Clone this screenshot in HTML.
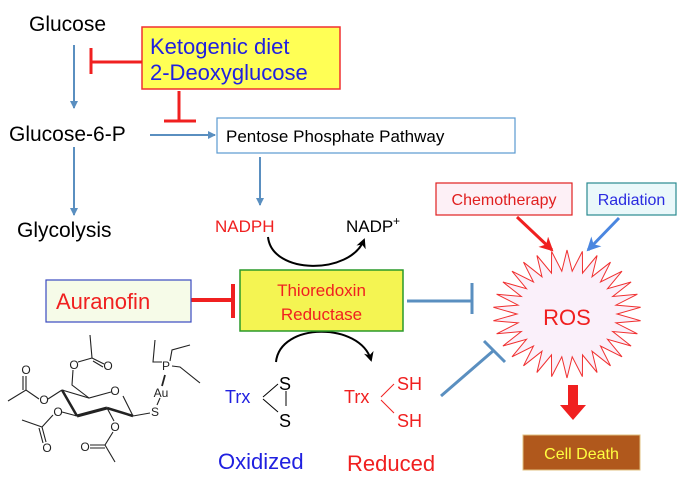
<!DOCTYPE html>
<html><head><meta charset="utf-8"><style>
html,body{margin:0;padding:0;background:#fff;}
svg{display:block;font-family:"Liberation Sans",sans-serif;}
</style></head><body>
<svg id="s" width="682" height="482" viewBox="0 0 682 482" xmlns="http://www.w3.org/2000/svg">
<defs>
<marker id="ab" markerWidth="8" markerHeight="8" refX="7" refY="4" orient="auto" markerUnits="userSpaceOnUse"><path d="M0,0 L8,4 L0,8 Z" fill="#5a8fc0"/></marker>
<marker id="ak" markerWidth="10" markerHeight="10" refX="8" refY="5" orient="auto" markerUnits="userSpaceOnUse"><path d="M0,0 L10,5 L0,10 L3,5 Z" fill="#000"/></marker>
<marker id="ar" markerWidth="14" markerHeight="14" refX="12" refY="7" orient="auto" markerUnits="userSpaceOnUse"><path d="M0,0 L14,7 L0,14 L4,7 Z" fill="#f02020"/></marker>
<marker id="abl" markerWidth="14" markerHeight="14" refX="12" refY="7" orient="auto" markerUnits="userSpaceOnUse"><path d="M0,0 L14,7 L0,14 L4,7 Z" fill="#4a86e0"/></marker>
</defs>
<text x="29" y="31" font-size="21">Glucose</text>
<text x="9" y="141" font-size="21">Glucose-6-P</text>
<text x="17" y="237" font-size="21">Glycolysis</text>
<g stroke="#5a8fc0" stroke-width="2" fill="none">
<line x1="74" y1="45" x2="74" y2="108" marker-end="url(#ab)"/>
<line x1="74" y1="147" x2="74" y2="215" marker-end="url(#ab)"/>
<line x1="150" y1="135" x2="215" y2="135" marker-end="url(#ab)"/>
<line x1="260" y1="157" x2="260" y2="205" marker-end="url(#ab)"/>
</g>
<rect x="142" y="27" width="198" height="62" fill="#ffff55" stroke="#f03030" stroke-width="1.5"/>
<text x="150" y="54" font-size="22" fill="#2020e0">Ketogenic diet</text>
<text x="150" y="80" font-size="22" fill="#2020e0">2-Deoxyglucose</text>
<g stroke="#f02020" stroke-width="3" fill="none">
<line x1="92" y1="62" x2="142" y2="62"/><line x1="91" y1="48" x2="91" y2="74"/>
<line x1="179" y1="91" x2="179" y2="121"/><line x1="164" y1="121" x2="196" y2="121"/>
<line x1="191" y1="300" x2="233" y2="300" stroke-width="4"/><line x1="233" y1="284" x2="233" y2="318" stroke-width="4"/>
</g>
<rect x="217" y="118" width="298" height="35" fill="#fff" stroke="#5a9ad0" stroke-width="1.2"/>
<text x="226" y="142" font-size="17">Pentose Phosphate Pathway</text>
<text x="215" y="232" font-size="17" fill="#f02020">NADPH</text>
<text x="346" y="232" font-size="17">NADP</text><text x="393" y="225" font-size="12">+</text>
<path d="M268,237 C272,275 350,275 364,240" stroke="#000" stroke-width="2" fill="none" marker-end="url(#ak)"/>
<path d="M276,362 C280,322 360,322 371,360" stroke="#000" stroke-width="2" fill="none" marker-end="url(#ak)"/>
<rect x="240" y="270" width="163" height="61" fill="#f4f452" stroke="#2a9a2a" stroke-width="1.5"/>
<text x="321.5" y="296" font-size="17" fill="#f02020" text-anchor="middle">Thioredoxin</text>
<text x="321.5" y="320" font-size="17" fill="#f02020" text-anchor="middle">Reductase</text>
<rect x="46" y="280" width="145" height="42" fill="#f6fbe8" stroke="#3a4ac0" stroke-width="1.2"/>
<text x="56" y="309" font-size="22" fill="#f02020">Auranofin</text>
<g stroke="#5a8fc0" stroke-width="3" fill="none">
<line x1="407" y1="301" x2="472" y2="301"/><line x1="472" y1="283" x2="472" y2="314"/>
<line x1="441" y1="396" x2="493" y2="351"/><line x1="484" y1="341" x2="505" y2="362"/>
</g>
<text x="225" y="403" font-size="18" fill="#2020e0">Trx</text>
<text x="279" y="390" font-size="18">S</text><text x="279" y="427" font-size="18">S</text>
<g stroke="#000" stroke-width="1"><line x1="263" y1="397" x2="278" y2="384"/><line x1="263" y1="399" x2="278" y2="412"/><line x1="286" y1="391" x2="286" y2="406"/></g>
<text x="344" y="403" font-size="18" fill="#f02020">Trx</text>
<text x="397" y="390" font-size="18" fill="#f02020">SH</text><text x="397" y="427" font-size="18" fill="#f02020">SH</text>
<g stroke="#f02020" stroke-width="1"><line x1="381" y1="397" x2="394" y2="384"/><line x1="381" y1="400" x2="394" y2="413"/></g>
<text x="218" y="469" font-size="22" fill="#2020e0">Oxidized</text>
<text x="347" y="471" font-size="22" fill="#f02020">Reduced</text>
<rect x="436" y="183" width="136" height="32" fill="#fdf0f6" stroke="#e02020" stroke-width="1.2"/>
<text x="504" y="205" font-size="16" fill="#e02020" text-anchor="middle">Chemotherapy</text>
<rect x="587" y="183" width="89" height="32" fill="#eaf8fa" stroke="#2a8a90" stroke-width="1.2"/>
<text x="631.5" y="205" font-size="16" fill="#2a2ae0" text-anchor="middle">Radiation</text>
<line x1="517" y1="217" x2="552" y2="250" stroke="#f02020" stroke-width="3" marker-end="url(#ar)"/>
<line x1="619" y1="218" x2="588" y2="250" stroke="#4a86e0" stroke-width="3" marker-end="url(#abl)"/>
<polygon id="star" fill="#faf0fa" stroke="#f03030" stroke-width="1"/>
<text x="567" y="325" font-size="22" fill="#f02020" text-anchor="middle">ROS</text>
<path d="M568,385 H578 V405 H586 L573,420 L560,405 H568 Z" fill="#f02020"/>
<rect x="523" y="435" width="117" height="35" fill="#b0581c" stroke="#e0c080" stroke-width="1"/>
<text x="581.5" y="459" font-size="16" fill="#ffff40" text-anchor="middle">Cell Death</text>
<g stroke="#222" stroke-width="1.1" fill="none">
<path d="M62,390 L89,398 L111,392"/><path d="M123,396 L133,416"/>
<path d="M133,416 L107,408" stroke-width="2.5"/><path d="M107,408 L77,416" stroke-width="3"/><path d="M77,416 L62,390" stroke-width="2.5"/>
<path d="M89,398 L72,385 L73,370"/><path d="M78,362 L92,358 L90,335"/><path d="M92,358 L104,364 M93,361 L103,367"/>
<path d="M62,390 L48,399"/><path d="M39,399 L26,390 L8,401"/><path d="M26,390 L26,376 M23,390 L23,376"/>
<path d="M77,416 L62,412"/><path d="M53,415 L42,427 L22,420"/><path d="M42,427 L46,442 M39,428 L43,443"/>
<path d="M107,408 L114,421"/><path d="M113,432 L105,445 L115,462"/><path d="M105,445 L90,445 M105,448 L90,448"/>
<path d="M133,416 L150,413"/><path d="M157,405 L160,398"/>
<path d="M165,375 L162,386" stroke-width="1.8"/>
<path d="M162,362 L153,362 L155,340"/><path d="M170,361 L172,350 L190,345"/><path d="M172,366 L180,367 L200,383"/>
</g>
<g font-size="12" fill="#222" text-anchor="middle">
<text x="115" y="395">O</text><text x="44" y="404">O</text><text x="26" y="374">O</text>
<text x="74" y="369">O</text><text x="108" y="370">O</text><text x="58" y="416">O</text>
<text x="47" y="452">O</text><text x="115" y="431">O</text><text x="85" y="451">O</text>
<text x="155" y="416">S</text><text x="161" y="397">Au</text><text x="166" y="370">P</text>
</g>
</svg>
<script>
var p=[],cx=567,cy=314,n=30;
for(var i=0;i<2*n;i++){var a=Math.PI*i/n-Math.PI/2,o=i%2==0;var rx=o?74:50,ry=o?64:43;p.push((cx+rx*Math.cos(a)).toFixed(1)+","+(cy+ry*Math.sin(a)).toFixed(1));}
document.getElementById("star").setAttribute("points",p.join(" "));
</script>
</body></html>
